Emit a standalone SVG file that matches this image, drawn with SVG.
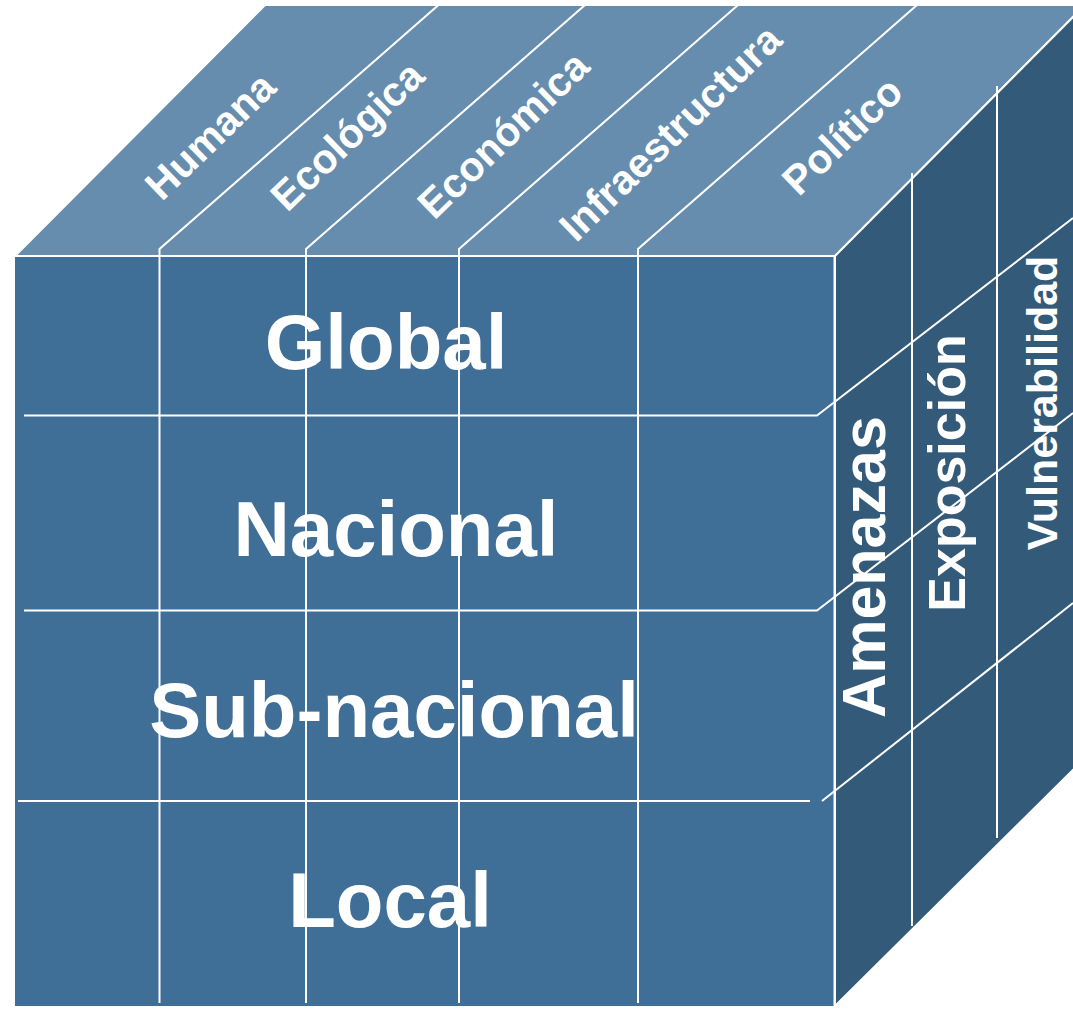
<svg xmlns="http://www.w3.org/2000/svg" width="1073" height="1009" viewBox="0 0 1073 1009">
  <style>
    .face { stroke: #ffffff; stroke-width: 2; stroke-linejoin: miter; }
    .front { fill: #3f6e96; }
    .top { fill: #668dad; }
    .side { fill: #345a7a; }
    .grid { fill: none; stroke: #ffffff; stroke-width: 2; }
    .lbl { font-family: "Liberation Sans", Arial, sans-serif; font-weight: bold; fill: #ffffff; text-anchor: middle; }
    .big { font-size: 78px; }
    .topl { font-size: 41px; }
  </style>
  <rect width="1073" height="1009" fill="#ffffff"/>

  <g id="faces">
    <polygon id="top-face" class="face top" points="15,256 265,5 1075,5 1075,15 835,256"/>
    <polygon id="front-face" class="front" points="15,256 835,256 835,1006 15,1006"/>
    <polygon id="side-face" class="face side" points="835,256 1075,15 1075,768 835,1006"/>
    <line class="grid" x1="15" y1="256" x2="835" y2="256"/>
    <line class="grid" x1="834.5" y1="256" x2="834.5" y2="1006"/>
  </g>

  <g id="labels-front">
    <text id="global" class="lbl big" x="386" y="369">Global</text>
    <text id="nacional" class="lbl big" x="396" y="556">Nacional</text>
    <text id="subnacional" class="lbl big" x="394" y="737">Sub-nacional</text>
    <text id="local" class="lbl big" x="390" y="927">Local</text>
  </g>

  <g id="labels-top">
    <text id="humana" class="lbl topl" transform="translate(220,146) rotate(-44)">Humana</text>
    <text id="ecologica" class="lbl topl" transform="translate(357,146) rotate(-44)">Ecológica</text>
    <text id="economica" class="lbl topl" transform="translate(513,145) rotate(-44)">Económica</text>
    <text id="infraestructura" class="lbl topl" transform="translate(680,143) rotate(-44)">Infraestructura</text>
    <text id="politico" class="lbl topl" transform="translate(852,146) rotate(-44)">Político</text>
  </g>

  <g id="labels-side">
    <text id="amenazas" class="lbl" font-size="61" transform="translate(885,567) rotate(-90)">Amenazas</text>
    <text id="exposicion" class="lbl" font-size="52" transform="translate(965,473) rotate(-90)">Exposición</text>
    <text id="vulnerabilidad" class="lbl" font-size="43" transform="translate(1057,403) rotate(-90)">Vulnerabilidad</text>
  </g>

  <g id="connectors">
    <path class="grid" d="M159.5,1003 V249 L438.5,5"/>
    <path class="grid" d="M306,1003 V249 L585,5"/>
    <path class="grid" d="M459,1003 V249 L738,5"/>
    <path class="grid" d="M638,1003 V249 L917,5"/>
    <path class="grid" d="M24,415.5 H817 L1073,218"/>
    <path class="grid" d="M24,610.5 H817 L1073,413"/>
    <path class="grid" d="M18,801 H810"/>
    <path class="grid" d="M822,801 L1073,603"/>
    <line class="grid" x1="912" y1="173" x2="912" y2="926"/>
    <line class="grid" x1="997" y1="86" x2="997" y2="838"/>
  </g>
</svg>
